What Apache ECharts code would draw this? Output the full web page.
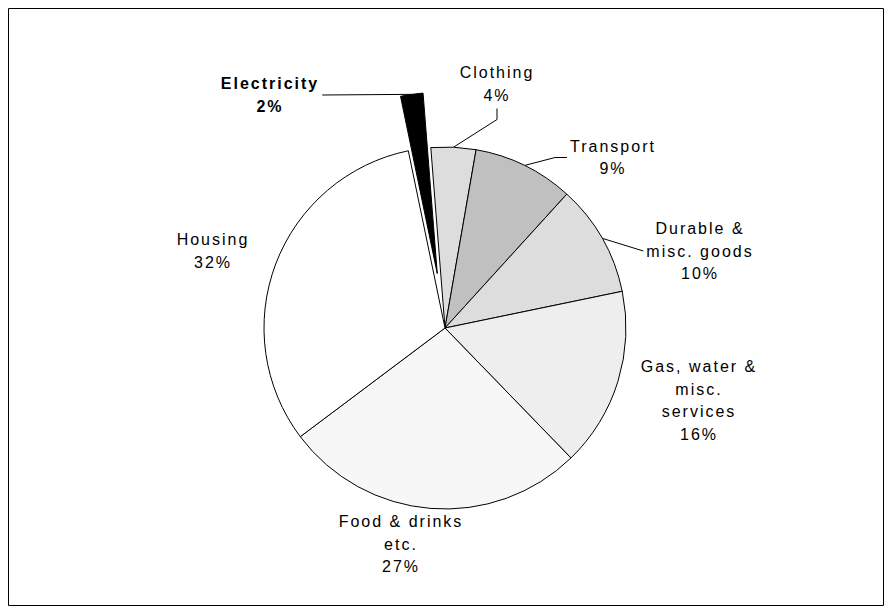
<!DOCTYPE html>
<html><head><meta charset="utf-8">
<script src="https://cdn.jsdelivr.net/npm/echarts@6/dist/echarts.min.js"></script>
<style>
html,body{margin:0;padding:0;background:#fff;}
#chart{width:892px;height:614px;}
#chart text{letter-spacing:2px;}
</style></head><body><div id="chart"></div>
<script>
// ---- data ----
const categories = ['Clothing', 'Transport', 'Durable &\nmisc. goods', 'Gas, water &\nmisc.\nservices', 'Food & drinks\netc.', 'Housing', 'Electricity'];
const shares = [4, 9, 10, 16, 27, 32, 2];

// ---- styling / layout (not data) ----
const fills = ['#dddddd', '#c0c0c0', '#dddddd', '#eeeeee', '#f7f7f7', '#ffffff', '#000000'];
const labelCentres = [[497, 84], [613, 157.5], [700, 251], [699, 400.5], [401, 544], [213, 251], [270, 95]];
const leaderLen2 = [11, 12, 0, null, null, null, 0]; // null = no leader line
const explodedIdx = 6;       // the slice pulled out of the pie (also bold label)
const LS = 2;                // letter spacing applied in CSS
const PIE_CENTER = [445, 328];
const PIE_RADIUS = 181;
const START_ANGLE = 94.5;    // degrees, echarts convention
const EXPLODE = 55;          // px

// direction of the exploded slice, from the library-independent share of the total
const total = shares.reduce((a, b) => a + b, 0);
const before = shares.slice(0, explodedIdx).reduce((a, b) => a + b, 0);
const midDeg = START_ANGLE - (before + shares[explodedIdx] / 2) / total * 360;
const midRad = midDeg * Math.PI / 180;
const explodedCenter = [PIE_CENTER[0] + EXPLODE * Math.cos(midRad), PIE_CENTER[1] - EXPLODE * Math.sin(midRad)];

const HIDDEN = 'rgba(0,0,0,0)';

function makeData(visible) {
  return categories.map((name, i) => {
    const show = visible(i);
    const maxChars = Math.max(...(name + '\n' + shares[i] + '%').split('\n').map(s => s.length));
    return {
      name: name,
      value: shares[i],
      itemStyle: show ? {color: fills[i]} : {color: HIDDEN, borderWidth: 0},
      label: show ? {
        show: true,
        fontWeight: i === explodedIdx ? 'bold' : 'normal',
        padding: [2, maxChars * LS / 2 + 3]
      } : {show: false},
      labelLine: (show && leaderLen2[i] !== null) ? {show: true, length2: leaderLen2[i]} : {show: false}
    };
  });
}

const common = {
  type: 'pie',
  radius: PIE_RADIUS,
  startAngle: START_ANGLE,
  clockwise: true,
  avoidLabelOverlap: false,
  silent: true,
  emphasis: {disabled: true},
  itemStyle: {borderColor: '#000', borderWidth: 1},
  label: {
    position: 'outside',
    formatter: p => p.name + '\n' + p.value + '%',
    fontFamily: 'Liberation Sans, Arial, sans-serif',
    fontSize: 16,
    lineHeight: 22.5,
    color: '#000'
  },
  labelLine: {
    minTurnAngle: 0,
    lineStyle: {color: '#000', width: 1}
  },
  labelLayout: function (params) {
    const c = labelCentres[params.dataIndex];
    return {x: c[0], y: c[1], align: 'center', verticalAlign: 'middle'};
  }
};

const chart = echarts.init(document.getElementById('chart'), null, {renderer: 'svg'});
chart.setOption({
  backgroundColor: '#ffffff',
  animation: false,
  graphic: [{
    type: 'rect', silent: true,
    shape: {x: 8.5, y: 8.5, width: 875, height: 597},
    style: {fill: 'none', stroke: '#000', lineWidth: 1}
  }],
  series: [
    Object.assign({}, common, {center: PIE_CENTER, data: makeData(i => i !== explodedIdx)}),
    Object.assign({}, common, {center: explodedCenter, data: makeData(i => i === explodedIdx)})
  ]
});
</script></body></html>
